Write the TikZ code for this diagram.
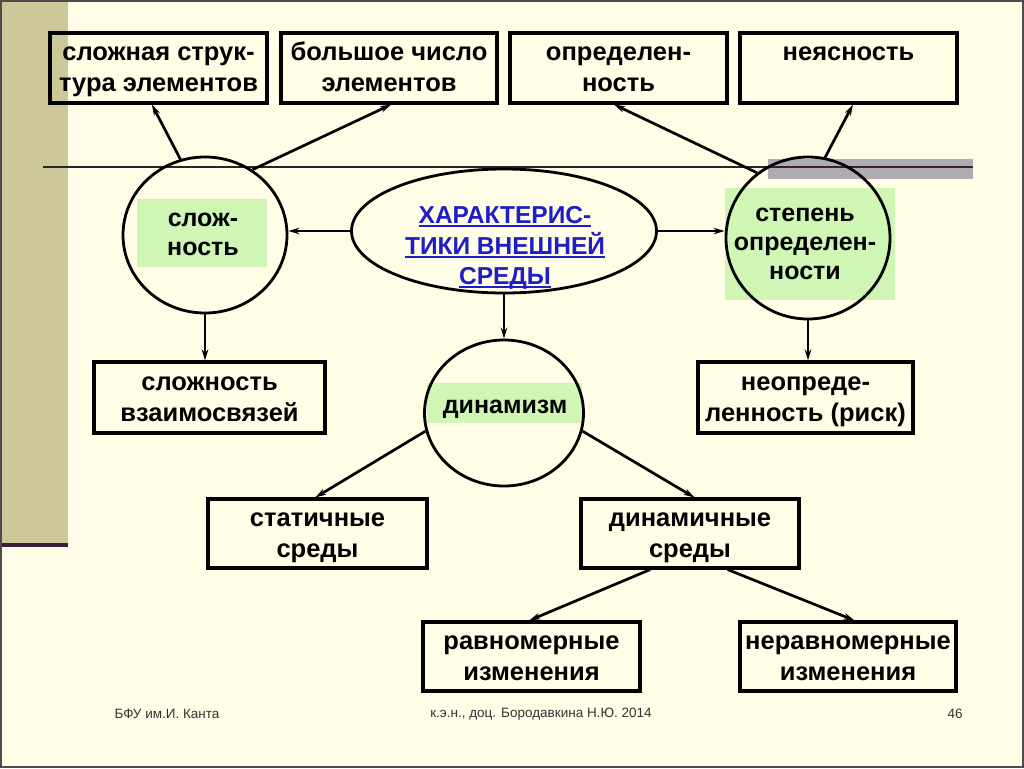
\documentclass[tikz,border=0pt]{standalone}
\usepackage{fontspec}
\setmainfont{Liberation Sans}
\usetikzlibrary{arrows.meta,calc,shapes.geometric}
\definecolor{bg}{RGB}{255,253,230}
\definecolor{barc}{RGB}{204,200,154}
\definecolor{purp}{RGB}{60,30,60}
\definecolor{grayb}{RGB}{175,171,176}
\definecolor{greenb}{RGB}{208,246,182}
\definecolor{blu}{RGB}{30,30,200}
\newcommand\myul[1]{\setbox0\hbox{#1}\rlap{\rule[-3.5pt]{\wd0}{1.8pt}}\box0}
\newcommand\st{\rule[-7pt]{0pt}{30pt}}
\begin{document}
\begin{tikzpicture}[x=1pt,y=-1pt,
 box/.style={draw, line width=3.1pt, inner sep=0pt, align=center, font=\bfseries\fontsize{25.5}{31}\selectfont},
 circ/.style={draw, ellipse, line width=2.8pt, inner sep=0pt},
 gbox/.style={fill=greenb, draw=none, inner sep=0pt},
 lbl/.style={align=center, font=\bfseries\fontsize{25}{29}\selectfont, inner sep=0pt},
 arr/.style={line width=2.7pt, -{Stealth[length=11pt,width=6.5pt]}},
 foot/.style={font=\fontsize{13.5}{16}\selectfont, text=black!80, inner sep=0pt}
]
\useasboundingbox (0,0) rectangle (1024,768);
% background
\fill[bg] (0,0) rectangle (1024,768);
\fill[barc] (0,0) rectangle (68,545);
\fill[purp] (0,543) rectangle (68,547);
\fill[grayb] (768,159) rectangle (973,179);
\draw[line width=1.4pt, black!85] (43,167) -- (768,167);
\draw[line width=1.4pt, purp] (768,167) -- (973,167);
\draw[line width=1.6pt, black!70] (0.8,0.8) rectangle (1023.2,767.2);

% top boxes
\node[box, minimum width=217pt, minimum height=70pt] (b1) at (158.5,68) {\st сложная струк-\\\st тура элементов};
\node[box, minimum width=216pt, minimum height=70pt] (b2) at (389,68) {\st большое число\\\st элементов};
\node[box, minimum width=217pt, minimum height=70pt] (b3) at (618.5,68) {\st определен-\\\st ность};
\node[box, minimum width=217pt, minimum height=70pt] (b4) at (848.5,68) {\st неясность\\\st};

% green backgrounds
\node[gbox, minimum width=130pt, minimum height=68pt] (g1) at (202,233) {};
\node[gbox, minimum width=170pt, minimum height=112pt] (g2) at (810,244) {};
\node[gbox, minimum width=155pt, minimum height=40pt] (g3) at (504.5,403) {};

% circles and central ellipse
\node[circ, minimum width=164pt, minimum height=156pt] (slozh) at (205,235) {};
\node[circ, minimum width=164pt, minimum height=162pt] (stepen) at (808,238) {};
\node[circ, minimum width=159pt, minimum height=146pt] (dyn) at (504,413) {};
\node[circ, minimum width=305pt, minimum height=124pt] (c) at (504,231) {};

\node[lbl] (t1) at (203,234) {слож-\\ность};
\node[lbl] (t2) at (805,244) {степень\\определен-\\ности};
\node[lbl] (t3) at (505,409) {динамизм};
\node[lbl, text=blu, font=\bfseries\fontsize{24.5}{30.5}\selectfont] (tc) at (505,248)
  {\myul{ХАРАКТЕРИС-}\\\myul{ТИКИ ВНЕШНЕЙ}\\\myul{СРЕДЫ}};

% lower boxes
\node[box, minimum width=231pt, minimum height=71pt] (b5) at (209.5,397.5) {\st сложность\\\st взаимосвязей};
\node[box, minimum width=215pt, minimum height=71pt] (b6) at (805.5,397.5) {\st неопреде-\\\st ленность (риск)};
\node[box, minimum width=219pt, minimum height=69pt] (b7) at (317.5,533.5) {\st статичные\\\st среды};
\node[box, minimum width=218pt, minimum height=69pt] (b8) at (690,533.5) {\st динамичные\\\st среды};
\node[box, minimum width=217pt, minimum height=69pt] (b9) at (531.5,656.5) {\st равномерные\\\st изменения};
\node[box, minimum width=216pt, minimum height=69pt] (b10) at (848,656.5) {\st неравномерные\\\st изменения};

% connectors
\draw[arr] (c.west) -- (slozh.east |- c.west);
\draw[arr] (c.east) -- (stepen.west |- c.east);
\draw[arr] (c.south) -- (dyn.north);
\draw[arr] (slozh.south) -- (slozh.south |- b5.north);
\draw[arr] (stepen.south) -- (stepen.south |- b6.north);
\draw[arr] (slozh.108) -- ($(b1.south west)!.47!(b1.south east)$);
\draw[arr] (slozh.54) -- ($(b2.south west)!.51!(b2.south east)$);
\draw[arr] (stepen.128) -- ($(b3.south west)!.48!(b3.south east)$);
\draw[arr] (stepen.78) -- ($(b4.south west)!.52!(b4.south east)$);
\draw[arr] (dyn.193) -- ($(b7.north west)!.49!(b7.north east)$);
\draw[arr] (dyn.347) -- ($(b8.north west)!.52!(b8.north east)$);
\draw[arr] ($(b8.south west)!.32!(b8.south east)$) -- ($(b9.north west)!.49!(b9.north east)$);
\draw[arr] ($(b8.south west)!.67!(b8.south east)$) -- ($(b10.north west)!.53!(b10.north east)$);

% footer
\node[foot] (f1) at (167,714) {БФУ им.И. Канта};
\node[foot] (f2) at (541,714) {к.э.н., доц. Бородавкина Н.Ю. 2014};
\node[foot] (f3) at (955,714) {46};
\end{tikzpicture}
\end{document}
